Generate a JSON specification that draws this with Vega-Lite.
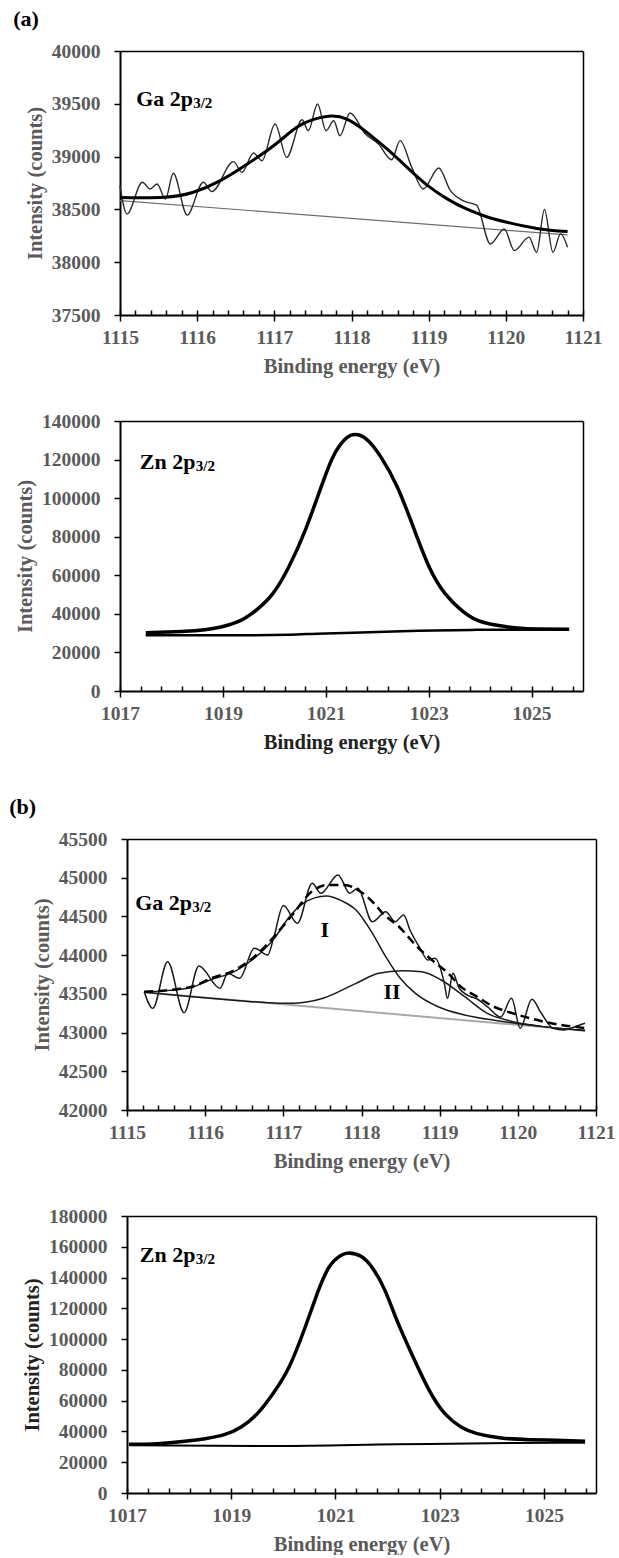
{
  "$schema": "https://vega.github.io/schema/vega-lite/v6.json",
  "padding": {"left": 9, "top": 8, "right": 0, "bottom": 0},
  "spacing": 43,
  "config": {
    "view": {"stroke": null},
    "font": "Liberation Serif",
    "title": {"font": "Liberation Serif", "fontSize": 22, "fontWeight": "bold", "color": "black"},
    "axis": {
      "labelFont": "Liberation Serif", "labelFontSize": 19.5, "labelFontWeight": "bold", "labelColor": "#5a5a5a",
      "titleFont": "Liberation Serif", "titleFontSize": 20.5, "titleFontWeight": "bold", "titleColor": "#5a5a5a",
      "domainColor": "black", "tickColor": "black", "tickWidth": 1.5, "grid": false, "labelFlush": false, "labelOverlap": false
    },
    "text": {"font": "Liberation Serif", "fontWeight": "bold", "color": "black"}
  },
  "datasets": {
    "gaA": [
      {"s":"bg","x":1115.0,"y":38584},{"s":"bg","x":1120.8,"y":38258},
      {"s":"fit","x":1115.0,"y":38612},{"s":"fit","x":1115.57,"y":38614},{"s":"fit","x":1115.95,"y":38662},{"s":"fit","x":1116.3,"y":38772},{"s":"fit","x":1116.65,"y":38930},{"s":"fit","x":1116.99,"y":39103},{"s":"fit","x":1117.29,"y":39277},{"s":"fit","x":1117.5,"y":39350},{"s":"fit","x":1117.7,"y":39382},{"s":"fit","x":1117.94,"y":39356},{"s":"fit","x":1118.2,"y":39230},{"s":"fit","x":1118.46,"y":39072},{"s":"fit","x":1118.72,"y":38898},{"s":"fit","x":1118.98,"y":38730},{"s":"fit","x":1119.24,"y":38600},{"s":"fit","x":1119.49,"y":38504},{"s":"fit","x":1119.75,"y":38430},{"s":"fit","x":1120.0,"y":38380},{"s":"fit","x":1120.4,"y":38320},{"s":"fit","x":1120.8,"y":38290},
      {"s":"raw","x":1115.0,"y":38724},{"s":"raw","x":1115.09,"y":38456},{"s":"raw","x":1115.29,"y":38757},{"s":"raw","x":1115.39,"y":38693},{"s":"raw","x":1115.48,"y":38740},{"s":"raw","x":1115.59,"y":38598},{"s":"raw","x":1115.69,"y":38842},{"s":"raw","x":1115.87,"y":38447},{"s":"raw","x":1116.08,"y":38757},{"s":"raw","x":1116.19,"y":38668},{"s":"raw","x":1116.47,"y":38952},{"s":"raw","x":1116.58,"y":38851},{"s":"raw","x":1116.73,"y":39034},{"s":"raw","x":1116.84,"y":38961},{"s":"raw","x":1117.01,"y":39309},{"s":"raw","x":1117.16,"y":38993},{"s":"raw","x":1117.36,"y":39349},{"s":"raw","x":1117.44,"y":39245},{"s":"raw","x":1117.56,"y":39498},{"s":"raw","x":1117.67,"y":39245},{"s":"raw","x":1117.77,"y":39340},{"s":"raw","x":1117.85,"y":39198},{"s":"raw","x":1117.98,"y":39413},{"s":"raw","x":1118.18,"y":39214},{"s":"raw","x":1118.35,"y":39120},{"s":"raw","x":1118.52,"y":38970},{"s":"raw","x":1118.63,"y":39151},{"s":"raw","x":1118.78,"y":38900},{"s":"raw","x":1118.93,"y":38693},{"s":"raw","x":1119.13,"y":38892},{"s":"raw","x":1119.28,"y":38680},{"s":"raw","x":1119.45,"y":38580},{"s":"raw","x":1119.62,"y":38540},{"s":"raw","x":1119.8,"y":38172},{"s":"raw","x":1119.98,"y":38315},{"s":"raw","x":1120.11,"y":38110},{"s":"raw","x":1120.3,"y":38237},{"s":"raw","x":1120.4,"y":38094},{"s":"raw","x":1120.5,"y":38499},{"s":"raw","x":1120.61,"y":38094},{"s":"raw","x":1120.71,"y":38268},{"s":"raw","x":1120.8,"y":38142}
    ],
    "znA": [
      {"s":"bg","x":1017.5,"y":28870},{"s":"bg","x":1019.27,"y":28870},{"s":"bg","x":1020.3,"y":29200},{"s":"bg","x":1020.83,"y":29740},{"s":"bg","x":1022.0,"y":30600},{"s":"bg","x":1022.8,"y":31300},{"s":"bg","x":1023.94,"y":31700},{"s":"bg","x":1025.73,"y":31900},
      {"s":"fit","x":1017.5,"y":30260},{"s":"fit","x":1017.9,"y":30600},{"s":"fit","x":1018.26,"y":30950},{"s":"fit","x":1018.65,"y":31800},{"s":"fit","x":1018.96,"y":33200},{"s":"fit","x":1019.35,"y":36650},{"s":"fit","x":1019.66,"y":42190},{"s":"fit","x":1019.97,"y":50490},{"s":"fit","x":1020.28,"y":64320},{"s":"fit","x":1020.6,"y":83340},{"s":"fit","x":1020.91,"y":105800},{"s":"fit","x":1021.14,"y":121380},{"s":"fit","x":1021.37,"y":130370},{"s":"fit","x":1021.57,"y":132960},{"s":"fit","x":1021.8,"y":130370},{"s":"fit","x":1022.07,"y":121380},{"s":"fit","x":1022.39,"y":105800},{"s":"fit","x":1022.7,"y":85070},{"s":"fit","x":1023.01,"y":64320},{"s":"fit","x":1023.32,"y":50490},{"s":"fit","x":1023.64,"y":41840},{"s":"fit","x":1023.95,"y":36650},{"s":"fit","x":1024.33,"y":34060},{"s":"fit","x":1024.72,"y":32680},{"s":"fit","x":1025.11,"y":32160},{"s":"fit","x":1025.73,"y":32000}
    ],
    "gaB": [
      {"s":"bg","x":1115.22,"y":43521},{"s":"bg","x":1120.86,"y":43023},
      {"s":"II","x":1115.22,"y":43521},{"s":"II","x":1115.8,"y":43465},{"s":"II","x":1116.4,"y":43415},{"s":"II","x":1116.8,"y":43385},{"s":"II","x":1117.09,"y":43378},{"s":"II","x":1117.51,"y":43443},{"s":"II","x":1117.93,"y":43636},{"s":"II","x":1118.22,"y":43765},{"s":"II","x":1118.52,"y":43799},{"s":"II","x":1118.77,"y":43786},{"s":"II","x":1119.02,"y":43679},{"s":"II","x":1119.32,"y":43463},{"s":"II","x":1119.61,"y":43249},{"s":"II","x":1119.9,"y":43150},{"s":"II","x":1120.3,"y":43080},{"s":"II","x":1120.86,"y":43030},
      {"s":"I","x":1115.22,"y":43525},{"s":"I","x":1115.54,"y":43545},{"s":"I","x":1115.83,"y":43585},{"s":"I","x":1116.08,"y":43685},{"s":"I","x":1116.38,"y":43790},{"s":"I","x":1116.63,"y":43960},{"s":"I","x":1116.88,"y":44210},{"s":"I","x":1117.08,"y":44500},{"s":"I","x":1117.24,"y":44660},{"s":"I","x":1117.4,"y":44740},{"s":"I","x":1117.55,"y":44764},{"s":"I","x":1117.75,"y":44700},{"s":"I","x":1117.93,"y":44583},{"s":"I","x":1118.14,"y":44282},{"s":"I","x":1118.31,"y":43980},{"s":"I","x":1118.48,"y":43722},{"s":"I","x":1118.69,"y":43507},{"s":"I","x":1118.98,"y":43334},{"s":"I","x":1119.32,"y":43227},{"s":"I","x":1119.76,"y":43150},{"s":"I","x":1120.3,"y":43080},{"s":"I","x":1120.86,"y":43025},
      {"s":"env","x":1115.22,"y":43528},{"s":"env","x":1115.54,"y":43550},{"s":"env","x":1115.83,"y":43593},{"s":"env","x":1116.08,"y":43701},{"s":"env","x":1116.38,"y":43808},{"s":"env","x":1116.63,"y":43980},{"s":"env","x":1116.88,"y":44238},{"s":"env","x":1117.13,"y":44540},{"s":"env","x":1117.36,"y":44819},{"s":"env","x":1117.57,"y":44906},{"s":"env","x":1117.78,"y":44906},{"s":"env","x":1117.99,"y":44819},{"s":"env","x":1118.16,"y":44670},{"s":"env","x":1118.27,"y":44540},{"s":"env","x":1118.48,"y":44367},{"s":"env","x":1118.69,"y":44131},{"s":"env","x":1118.9,"y":43937},{"s":"env","x":1119.11,"y":43765},{"s":"env","x":1119.27,"y":43593},{"s":"env","x":1119.48,"y":43463},{"s":"env","x":1119.65,"y":43356},{"s":"env","x":1120.0,"y":43230},{"s":"env","x":1120.43,"y":43120},{"s":"env","x":1120.86,"y":43059},
      {"s":"raw","x":1115.22,"y":43528},{"s":"raw","x":1115.33,"y":43313},{"s":"raw","x":1115.52,"y":43915},{"s":"raw","x":1115.73,"y":43257},{"s":"raw","x":1115.92,"y":43860},{"s":"raw","x":1116.19,"y":43572},{"s":"raw","x":1116.29,"y":43765},{"s":"raw","x":1116.44,"y":43701},{"s":"raw","x":1116.63,"y":44088},{"s":"raw","x":1116.8,"y":44002},{"s":"raw","x":1116.88,"y":44238},{"s":"raw","x":1117.0,"y":44640},{"s":"raw","x":1117.18,"y":44411},{"s":"raw","x":1117.37,"y":44928},{"s":"raw","x":1117.48,"y":44799},{"s":"raw","x":1117.7,"y":45035},{"s":"raw","x":1117.85,"y":44799},{"s":"raw","x":1117.95,"y":44863},{"s":"raw","x":1118.14,"y":44430},{"s":"raw","x":1118.31,"y":44561},{"s":"raw","x":1118.43,"y":44432},{"s":"raw","x":1118.54,"y":44518},{"s":"raw","x":1118.62,"y":44325},{"s":"raw","x":1118.75,"y":44088},{"s":"raw","x":1118.85,"y":43937},{"s":"raw","x":1118.94,"y":43959},{"s":"raw","x":1119.06,"y":43636},{"s":"raw","x":1119.1,"y":43443},{"s":"raw","x":1119.17,"y":43765},{"s":"raw","x":1119.25,"y":43572},{"s":"raw","x":1119.4,"y":43463},{"s":"raw","x":1119.46,"y":43443},{"s":"raw","x":1119.61,"y":43334},{"s":"raw","x":1119.78,"y":43200},{"s":"raw","x":1119.92,"y":43443},{"s":"raw","x":1120.03,"y":43055},{"s":"raw","x":1120.18,"y":43430},{"s":"raw","x":1120.3,"y":43249},{"s":"raw","x":1120.45,"y":43055},{"s":"raw","x":1120.58,"y":43033},{"s":"raw","x":1120.73,"y":43076},{"s":"raw","x":1120.86,"y":43120}
    ],
    "znB": [
      {"s":"bg","x":1017.04,"y":30970},{"s":"bg","x":1019.88,"y":30540},{"s":"bg","x":1022.18,"y":31620},{"s":"bg","x":1024.49,"y":32490},{"s":"bg","x":1025.79,"y":32710},
      {"s":"fit","x":1017.04,"y":31620},{"s":"fit","x":1017.58,"y":32060},{"s":"fit","x":1018.11,"y":33570},{"s":"fit","x":1018.5,"y":35300},{"s":"fit","x":1018.88,"y":38120},{"s":"fit","x":1019.19,"y":42890},{"s":"fit","x":1019.5,"y":51550},{"s":"fit","x":1019.8,"y":64550},{"s":"fit","x":1020.11,"y":81870},{"s":"fit","x":1020.42,"y":107870},{"s":"fit","x":1020.65,"y":129530},{"s":"fit","x":1020.88,"y":146850},{"s":"fit","x":1021.11,"y":154430},{"s":"fit","x":1021.26,"y":155950},{"s":"fit","x":1021.49,"y":153780},{"s":"fit","x":1021.72,"y":145770},{"s":"fit","x":1021.95,"y":131690},{"s":"fit","x":1022.18,"y":112200},{"s":"fit","x":1022.49,"y":88370},{"s":"fit","x":1022.8,"y":66710},{"s":"fit","x":1023.1,"y":51550},{"s":"fit","x":1023.41,"y":42890},{"s":"fit","x":1023.72,"y":38550},{"s":"fit","x":1024.18,"y":35740},{"s":"fit","x":1024.72,"y":34660},{"s":"fit","x":1025.25,"y":34220},{"s":"fit","x":1025.79,"y":33570}
    ],
    "ann": [
      {"p":"a1","x":1115.21,"y":39476,"t":"Ga 2p","u":"3/2"},
      {"p":"a2","x":1017.385,"y":115100,"t":"Zn 2p","u":"3/2"},
      {"p":"b1","x":1115.105,"y":44583,"t":"Ga 2p","u":"3/2"},
      {"p":"b2","x":1017.246,"y":150300,"t":"Zn 2p","u":"3/2"},
      {"p":"b1r","x":1117.53,"y":44330,"t":"I"},
      {"p":"b1r","x":1118.39,"y":43528,"t":"II"}
    ]
  },
  "vconcat": [
    {
      "spacing": 34,
      "vconcat": [
        {
          "width": 463, "height": 264,
          "title": {"text": "(a)", "anchor": "start", "frame": "bounds", "dx": -12, "offset": 10},
          "resolve": {"axis": {"x": "independent", "y": "independent"}},
          "layer": [
            {"data": {"name": "gaA"}, "transform": [{"filter": "datum.s === 'bg'"}],
             "mark": {"type": "line", "color": "#6e6e6e", "strokeWidth": 1.2},
             "encoding": {
               "x": {"field": "x", "type": "quantitative", "scale": {"domain": [1115, 1121], "nice": false, "zero": false},
                     "axis": {"orient": "bottom", "values": [1115,1116,1117,1118,1119,1120,1121], "format": "d", "tickSize": 6, "domainWidth": 2, "labelPadding": 7, "title": "Binding energy (eV)", "titlePadding": 10}},
               "y": {"field": "y", "type": "quantitative", "scale": {"domain": [37500, 40000], "nice": false, "zero": false},
                     "axis": {"orient": "left", "values": [37500,38000,38500,39000,39500,40000], "format": "d", "tickSize": 6, "domainWidth": 2, "labelPadding": 14, "title": "Intensity (counts)", "titlePadding": 6}}
             }},
            {"data": {"name": "gaA"}, "transform": [{"filter": "datum.s === 'raw'"}],
             "mark": {"type": "line", "color": "#2a2a2a", "strokeWidth": 1.4, "interpolate": "monotone"},
             "encoding": {
               "x": {"field": "x", "type": "quantitative", "scale": {"domain": [1115, 1121], "nice": false, "zero": false},
                     "axis": {"orient": "bottom", "values": [1115,1115.2,1115.4,1115.6,1115.8,1116,1116.2,1116.4,1116.6,1116.8,1117,1117.2,1117.4,1117.6,1117.8,1118,1118.2,1118.4,1118.6,1118.8,1119,1119.2,1119.4,1119.6,1119.8,1120,1120.2,1120.4,1120.6,1120.8,1121], "tickSize": -5, "labels": false, "domain": false, "title": null}},
               "y": {"field": "y", "type": "quantitative", "scale": {"domain": [37500, 40000], "nice": false, "zero": false},
                     "axis": {"orient": "right", "ticks": false, "labels": false, "domainWidth": 1.5, "title": null}}
             }},
            {"data": {"name": "gaA"}, "transform": [{"filter": "datum.s === 'fit'"}],
             "mark": {"type": "line", "color": "black", "strokeWidth": 3, "interpolate": "natural"},
             "encoding": {
               "x": {"field": "x", "type": "quantitative", "scale": {"domain": [1115, 1121], "nice": false, "zero": false},
                     "axis": {"orient": "top", "ticks": false, "labels": false, "domainWidth": 1.5, "title": null}},
               "y": {"field": "y", "type": "quantitative", "scale": {"domain": [37500, 40000], "nice": false, "zero": false}, "axis": null}
             }},
            {"data": {"name": "ann"}, "transform": [{"filter": "datum.p === 'a1'"}],
             "mark": {"type": "text", "fontSize": 22, "align": "left", "baseline": "alphabetic"},
             "encoding": {
               "x": {"field": "x", "type": "quantitative", "axis": null},
               "y": {"field": "y", "type": "quantitative", "axis": null},
               "text": {"field": "t"}
             }},
            {"data": {"name": "ann"}, "transform": [{"filter": "datum.p === 'a1'"}],
             "mark": {"type": "text", "fontSize": 15, "align": "left", "baseline": "alphabetic", "dx": 57, "dy": 2},
             "encoding": {
               "x": {"field": "x", "type": "quantitative", "axis": null},
               "y": {"field": "y", "type": "quantitative", "axis": null},
               "text": {"field": "u"}
             }}
          ]
        },
        {
          "width": 463, "height": 270,
          "resolve": {"axis": {"x": "independent", "y": "independent"}},
          "layer": [
            {"data": {"name": "znA"}, "transform": [{"filter": "datum.s === 'bg'"}],
             "mark": {"type": "line", "color": "black", "strokeWidth": 2.5, "interpolate": "monotone"},
             "encoding": {
               "x": {"field": "x", "type": "quantitative", "scale": {"domain": [1017, 1026], "nice": false, "zero": false},
                     "axis": {"orient": "bottom", "values": [1017,1019,1021,1023,1025], "format": "d", "tickSize": 6, "domainWidth": 2, "labelPadding": 7, "title": "Binding energy (eV)", "titlePadding": 10, "titleColor": "#222222"}},
               "y": {"field": "y", "type": "quantitative", "scale": {"domain": [0, 140000], "nice": false, "zero": false},
                     "axis": {"orient": "left", "values": [0,20000,40000,60000,80000,100000,120000,140000], "format": "d", "tickSize": 6, "domainWidth": 2, "labelPadding": 14, "title": "Intensity (counts)", "titlePadding": 6}}
             }},
            {"data": {"name": "znA"}, "transform": [{"filter": "datum.s === 'fit'"}],
             "mark": {"type": "line", "color": "black", "strokeWidth": 3.5, "interpolate": "natural"},
             "encoding": {
               "x": {"field": "x", "type": "quantitative", "scale": {"domain": [1017, 1026], "nice": false, "zero": false},
                     "axis": {"orient": "bottom", "values": [1017,1017.4,1017.8,1018.2,1018.6,1019,1019.4,1019.8,1020.2,1020.6,1021,1021.4,1021.8,1022.2,1022.6,1023,1023.4,1023.8,1024.2,1024.6,1025,1025.4,1025.8], "tickSize": -5, "labels": false, "domain": false, "title": null}},
               "y": {"field": "y", "type": "quantitative", "scale": {"domain": [0, 140000], "nice": false, "zero": false},
                     "axis": {"orient": "right", "ticks": false, "labels": false, "domainWidth": 1.5, "title": null}}
             }},
            {"data": {"name": "ann"}, "transform": [{"filter": "datum.p === 'a2'"}],
             "mark": {"type": "text", "fontSize": 22, "align": "left", "baseline": "alphabetic"},
             "encoding": {
               "x": {"field": "x", "type": "quantitative", "scale": {"domain": [1017, 1026], "nice": false, "zero": false},
                     "axis": {"orient": "top", "ticks": false, "labels": false, "domainWidth": 1.5, "title": null}},
               "y": {"field": "y", "type": "quantitative", "scale": {"domain": [0, 140000], "nice": false, "zero": false}, "axis": null},
               "text": {"field": "t"}
             }},
            {"data": {"name": "ann"}, "transform": [{"filter": "datum.p === 'a2'"}],
             "mark": {"type": "text", "fontSize": 15, "align": "left", "baseline": "alphabetic", "dx": 56, "dy": 2},
             "encoding": {
               "x": {"field": "x", "type": "quantitative", "axis": null},
               "y": {"field": "y", "type": "quantitative", "axis": null},
               "text": {"field": "u"}
             }}
          ]
        }
      ]
    },
    {
      "spacing": 34,
      "vconcat": [
        {
          "width": 476, "height": 271,
          "title": {"text": "(b)", "anchor": "start", "frame": "bounds", "dx": -23, "offset": 10},
          "resolve": {"axis": {"x": "independent", "y": "independent"}},
          "layer": [
            {"data": {"name": "gaB"}, "transform": [{"filter": "datum.s === 'bg'"}],
             "mark": {"type": "line", "color": "#a8a8a8", "strokeWidth": 2},
             "encoding": {
               "x": {"field": "x", "type": "quantitative", "scale": {"domain": [1115, 1121], "range": [7, 476], "nice": false, "zero": false},
                     "axis": {"orient": "bottom", "values": [1115,1116,1117,1118,1119,1120,1121], "format": "d", "tickSize": 6, "domainWidth": 2, "labelPadding": 7, "title": "Binding energy (eV)", "titlePadding": 10}},
               "y": {"field": "y", "type": "quantitative", "scale": {"domain": [42000, 45500], "nice": false, "zero": false},
                     "axis": {"orient": "left", "offset": -7, "values": [42000,42500,43000,43500,44000,44500,45000,45500], "format": "d", "tickSize": 6, "domainWidth": 2, "labelPadding": 14, "title": "Intensity (counts)", "titlePadding": 6}}
             }},
            {"data": {"name": "gaB"}, "transform": [{"filter": "datum.s === 'II'"}],
             "mark": {"type": "line", "color": "#1a1a1a", "strokeWidth": 1.5, "interpolate": "monotone"},
             "encoding": {
               "x": {"field": "x", "type": "quantitative", "scale": {"domain": [1115, 1121], "range": [7, 476], "nice": false, "zero": false},
                     "axis": {"orient": "bottom", "values": [1115,1115.2,1115.4,1115.6,1115.8,1116,1116.2,1116.4,1116.6,1116.8,1117,1117.2,1117.4,1117.6,1117.8,1118,1118.2,1118.4,1118.6,1118.8,1119,1119.2,1119.4,1119.6,1119.8,1120,1120.2,1120.4,1120.6,1120.8,1121], "tickSize": -5, "labels": false, "domain": false, "title": null}},
               "y": {"field": "y", "type": "quantitative", "scale": {"domain": [42000, 45500], "nice": false, "zero": false},
                     "axis": {"orient": "right", "ticks": false, "labels": false, "domainWidth": 1.5, "title": null}}
             }},
            {"data": {"name": "gaB"}, "transform": [{"filter": "datum.s === 'I'"}],
             "mark": {"type": "line", "color": "#1a1a1a", "strokeWidth": 1.5, "interpolate": "monotone"},
             "encoding": {
               "x": {"field": "x", "type": "quantitative", "scale": {"domain": [1115, 1121], "range": [7, 476], "nice": false, "zero": false},
                     "axis": {"orient": "top", "ticks": false, "labels": false, "domainWidth": 1.5, "title": null}},
               "y": {"field": "y", "type": "quantitative", "scale": {"domain": [42000, 45500], "nice": false, "zero": false}, "axis": null}
             }},
            {"data": {"name": "gaB"}, "transform": [{"filter": "datum.s === 'raw'"}],
             "mark": {"type": "line", "color": "#1a1a1a", "strokeWidth": 1.5, "interpolate": "monotone"},
             "encoding": {
               "x": {"field": "x", "type": "quantitative", "scale": {"domain": [1115, 1121], "range": [7, 476], "nice": false, "zero": false}, "axis": null},
               "y": {"field": "y", "type": "quantitative", "scale": {"domain": [42000, 45500], "nice": false, "zero": false}, "axis": null}
             }},
            {"data": {"name": "gaB"}, "transform": [{"filter": "datum.s === 'env'"}],
             "mark": {"type": "line", "color": "black", "strokeWidth": 2.5, "strokeDash": [9, 5], "interpolate": "monotone"},
             "encoding": {
               "x": {"field": "x", "type": "quantitative", "scale": {"domain": [1115, 1121], "range": [7, 476], "nice": false, "zero": false}, "axis": null},
               "y": {"field": "y", "type": "quantitative", "scale": {"domain": [42000, 45500], "nice": false, "zero": false}, "axis": null}
             }},
            {"data": {"name": "ann"}, "transform": [{"filter": "datum.p === 'b1'"}],
             "mark": {"type": "text", "fontSize": 22, "align": "left", "baseline": "alphabetic"},
             "encoding": {
               "x": {"field": "x", "type": "quantitative", "axis": null},
               "y": {"field": "y", "type": "quantitative", "axis": null},
               "text": {"field": "t"}
             }},
            {"data": {"name": "ann"}, "transform": [{"filter": "datum.p === 'b1'"}],
             "mark": {"type": "text", "fontSize": 15, "align": "left", "baseline": "alphabetic", "dx": 57, "dy": 2},
             "encoding": {
               "x": {"field": "x", "type": "quantitative", "axis": null},
               "y": {"field": "y", "type": "quantitative", "axis": null},
               "text": {"field": "u"}
             }},
            {"data": {"name": "ann"}, "transform": [{"filter": "datum.p === 'b1r'"}],
             "mark": {"type": "text", "fontSize": 22, "align": "center", "baseline": "middle"},
             "encoding": {
               "x": {"field": "x", "type": "quantitative", "axis": null},
               "y": {"field": "y", "type": "quantitative", "axis": null},
               "text": {"field": "t"}
             }}
          ]
        },
        {
          "width": 476, "height": 277,
          "resolve": {"axis": {"x": "independent", "y": "independent"}},
          "layer": [
            {"data": {"name": "znB"}, "transform": [{"filter": "datum.s === 'bg'"}],
             "mark": {"type": "line", "color": "black", "strokeWidth": 2, "interpolate": "monotone"},
             "encoding": {
               "x": {"field": "x", "type": "quantitative", "scale": {"domain": [1017, 1026], "range": [7, 476], "nice": false, "zero": false},
                     "axis": {"orient": "bottom", "values": [1017,1019,1021,1023,1025], "format": "d", "tickSize": 6, "domainWidth": 2, "labelPadding": 7, "title": "Binding energy (eV)", "titlePadding": 10}},
               "y": {"field": "y", "type": "quantitative", "scale": {"domain": [0, 180000], "nice": false, "zero": false},
                     "axis": {"orient": "left", "offset": -7, "values": [0,20000,40000,60000,80000,100000,120000,140000,160000,180000], "format": "d", "tickSize": 6, "domainWidth": 2, "labelPadding": 14, "title": "Intensity (counts)", "titlePadding": 6, "titleColor": "#222222"}}
             }},
            {"data": {"name": "znB"}, "transform": [{"filter": "datum.s === 'fit'"}],
             "mark": {"type": "line", "color": "black", "strokeWidth": 3.5, "interpolate": "natural"},
             "encoding": {
               "x": {"field": "x", "type": "quantitative", "scale": {"domain": [1017, 1026], "range": [7, 476], "nice": false, "zero": false},
                     "axis": {"orient": "bottom", "values": [1017,1017.4,1017.8,1018.2,1018.6,1019,1019.4,1019.8,1020.2,1020.6,1021,1021.4,1021.8,1022.2,1022.6,1023,1023.4,1023.8,1024.2,1024.6,1025,1025.4,1025.8], "tickSize": -5, "labels": false, "domain": false, "title": null}},
               "y": {"field": "y", "type": "quantitative", "scale": {"domain": [0, 180000], "nice": false, "zero": false},
                     "axis": {"orient": "right", "ticks": false, "labels": false, "domainWidth": 1.5, "title": null}}
             }},
            {"data": {"name": "ann"}, "transform": [{"filter": "datum.p === 'b2'"}],
             "mark": {"type": "text", "fontSize": 22, "align": "left", "baseline": "alphabetic"},
             "encoding": {
               "x": {"field": "x", "type": "quantitative", "scale": {"domain": [1017, 1026], "range": [7, 476], "nice": false, "zero": false},
                     "axis": {"orient": "top", "ticks": false, "labels": false, "domainWidth": 1.5, "title": null}},
               "y": {"field": "y", "type": "quantitative", "scale": {"domain": [0, 180000], "nice": false, "zero": false}, "axis": null},
               "text": {"field": "t"}
             }},
            {"data": {"name": "ann"}, "transform": [{"filter": "datum.p === 'b2'"}],
             "mark": {"type": "text", "fontSize": 15, "align": "left", "baseline": "alphabetic", "dx": 56, "dy": 2},
             "encoding": {
               "x": {"field": "x", "type": "quantitative", "axis": null},
               "y": {"field": "y", "type": "quantitative", "axis": null},
               "text": {"field": "u"}
             }}
          ]
        }
      ]
    }
  ]
}
